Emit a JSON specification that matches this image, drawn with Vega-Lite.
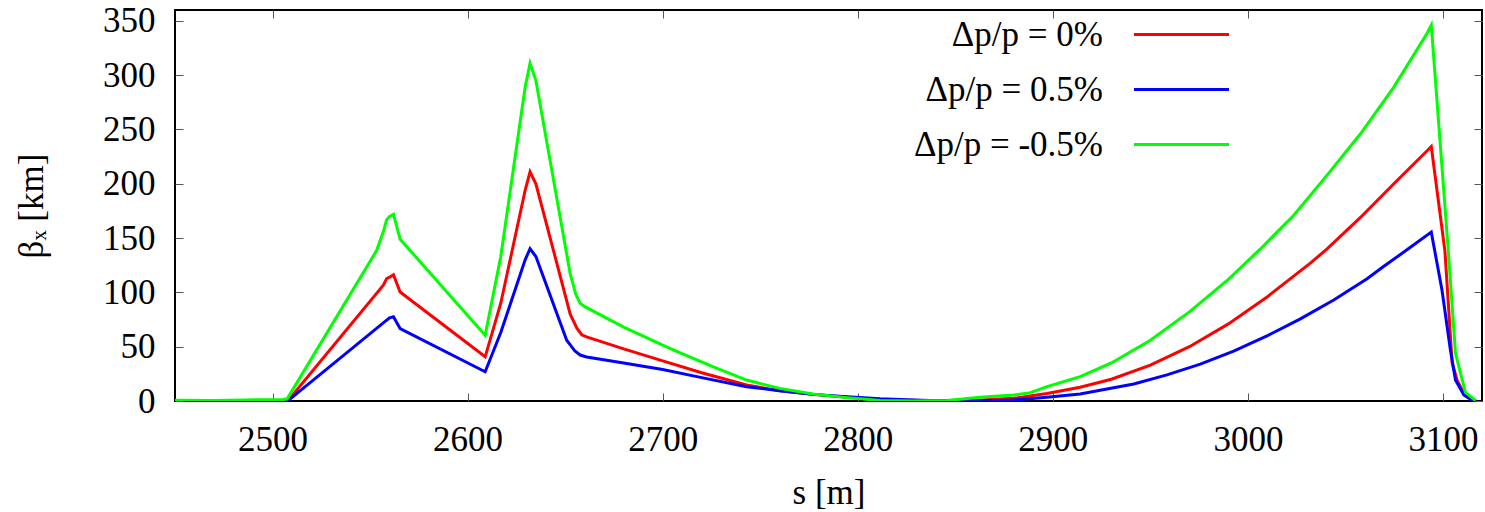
{
  "$schema": "https://vega.github.io/schema/vega-lite/v6.json",
  "width": 1307,
  "height": 391,
  "autosize": {"type": "none"},
  "padding": {"left": 175, "top": 10, "right": 3, "bottom": 111},
  "background": "white",
  "config": {
    "view": {"stroke": "#000", "strokeWidth": 2},
    "font": "Times New Roman",
    "axis": {
      "labelFont": "Times New Roman", "labelFontSize": 35, "labelColor": "#000",
      "titleFont": "Times New Roman", "titleFontSize": 35, "titleFontWeight": "normal", "titleColor": "#000",
      "grid": false, "domain": false, "tickColor": "#555", "tickWidth": 1, "tickSize": -8, "format": "d"
    },
    "legend": {
      "labelOffset": -96, "symbolOffset": 340, "labelAlign": "right", "labelLimit": 400
    }
  },
  "datasets": {
    "beta": [
      {"s":2450,"b":0.3,"k":"Δp/p = 0%"},{"s":2480,"b":0.2,"k":"Δp/p = 0%"},{"s":2505,"b":0.3,"k":"Δp/p = 0%"},{"s":2508,"b":0.5,"k":"Δp/p = 0%"},
      {"s":2556.8,"b":106.6,"k":"Δp/p = 0%"},{"s":2558.5,"b":112.7,"k":"Δp/p = 0%"},{"s":2560,"b":114,"k":"Δp/p = 0%"},{"s":2562,"b":116.3,"k":"Δp/p = 0%"},
      {"s":2565.4,"b":100.4,"k":"Δp/p = 0%"},{"s":2609,"b":40.7,"k":"Δp/p = 0%"},{"s":2617,"b":90,"k":"Δp/p = 0%"},{"s":2629.5,"b":194,"k":"Δp/p = 0%"},
      {"s":2632,"b":211,"k":"Δp/p = 0%"},{"s":2635,"b":200,"k":"Δp/p = 0%"},{"s":2652.6,"b":80,"k":"Δp/p = 0%"},{"s":2656,"b":67,"k":"Δp/p = 0%"},
      {"s":2658.5,"b":61,"k":"Δp/p = 0%"},{"s":2661,"b":59,"k":"Δp/p = 0%"},{"s":2680,"b":48,"k":"Δp/p = 0%"},{"s":2700,"b":37,"k":"Δp/p = 0%"},
      {"s":2720,"b":26,"k":"Δp/p = 0%"},{"s":2743,"b":14.7,"k":"Δp/p = 0%"},{"s":2760,"b":9.5,"k":"Δp/p = 0%"},{"s":2777,"b":6.1,"k":"Δp/p = 0%"},
      {"s":2794.5,"b":3.4,"k":"Δp/p = 0%"},{"s":2811.5,"b":1.2,"k":"Δp/p = 0%"},{"s":2840,"b":0.2,"k":"Δp/p = 0%"},{"s":2863,"b":1,"k":"Δp/p = 0%"},
      {"s":2880,"b":2.5,"k":"Δp/p = 0%"},{"s":2897,"b":7,"k":"Δp/p = 0%"},{"s":2914,"b":12.6,"k":"Δp/p = 0%"},{"s":2930,"b":20,"k":"Δp/p = 0%"},
      {"s":2950,"b":33,"k":"Δp/p = 0%"},{"s":2970,"b":50,"k":"Δp/p = 0%"},{"s":2990,"b":71,"k":"Δp/p = 0%"},{"s":3010,"b":96,"k":"Δp/p = 0%"},
      {"s":3032,"b":127,"k":"Δp/p = 0%"},{"s":3040.6,"b":140,"k":"Δp/p = 0%"},{"s":3057.7,"b":169,"k":"Δp/p = 0%"},{"s":3074.8,"b":200,"k":"Δp/p = 0%"},
      {"s":3092,"b":230.6,"k":"Δp/p = 0%"},{"s":3094,"b":234.3,"k":"Δp/p = 0%"},{"s":3101,"b":138,"k":"Δp/p = 0%"},{"s":3104.7,"b":35,"k":"Δp/p = 0%"},
      {"s":3107.3,"b":19,"k":"Δp/p = 0%"},{"s":3110.7,"b":7,"k":"Δp/p = 0%"},{"s":3115,"b":1,"k":"Δp/p = 0%"},{"s":3117,"b":0,"k":"Δp/p = 0%"},

      {"s":2450,"b":0.2,"k":"Δp/p = 0.5%"},{"s":2480,"b":0.1,"k":"Δp/p = 0.5%"},{"s":2505,"b":0.2,"k":"Δp/p = 0.5%"},{"s":2508,"b":0.4,"k":"Δp/p = 0.5%"},
      {"s":2558.5,"b":74.4,"k":"Δp/p = 0.5%"},{"s":2560,"b":76.5,"k":"Δp/p = 0.5%"},{"s":2562,"b":77.5,"k":"Δp/p = 0.5%"},{"s":2565.4,"b":66.7,"k":"Δp/p = 0.5%"},
      {"s":2609,"b":26.9,"k":"Δp/p = 0.5%"},{"s":2617,"b":63,"k":"Δp/p = 0.5%"},{"s":2629.5,"b":130,"k":"Δp/p = 0.5%"},{"s":2632,"b":140.2,"k":"Δp/p = 0.5%"},
      {"s":2635,"b":133,"k":"Δp/p = 0.5%"},{"s":2650.8,"b":56,"k":"Δp/p = 0.5%"},{"s":2655,"b":46,"k":"Δp/p = 0.5%"},{"s":2657.7,"b":42.3,"k":"Δp/p = 0.5%"},
      {"s":2661,"b":40.5,"k":"Δp/p = 0.5%"},{"s":2680,"b":35,"k":"Δp/p = 0.5%"},{"s":2700,"b":29,"k":"Δp/p = 0.5%"},{"s":2720,"b":21.5,"k":"Δp/p = 0.5%"},
      {"s":2743,"b":13.2,"k":"Δp/p = 0.5%"},{"s":2760,"b":9.5,"k":"Δp/p = 0.5%"},{"s":2777,"b":6.1,"k":"Δp/p = 0.5%"},{"s":2794.5,"b":4,"k":"Δp/p = 0.5%"},
      {"s":2811.5,"b":2.1,"k":"Δp/p = 0.5%"},{"s":2828.6,"b":0.9,"k":"Δp/p = 0.5%"},{"s":2845.7,"b":0.1,"k":"Δp/p = 0.5%"},{"s":2863,"b":0.3,"k":"Δp/p = 0.5%"},
      {"s":2880,"b":0.9,"k":"Δp/p = 0.5%"},{"s":2897,"b":3.4,"k":"Δp/p = 0.5%"},{"s":2914,"b":6.4,"k":"Δp/p = 0.5%"},{"s":2941.5,"b":15.7,"k":"Δp/p = 0.5%"},
      {"s":2958.5,"b":24,"k":"Δp/p = 0.5%"},{"s":2975.6,"b":34,"k":"Δp/p = 0.5%"},{"s":2992.7,"b":46,"k":"Δp/p = 0.5%"},{"s":3009.8,"b":60,"k":"Δp/p = 0.5%"},
      {"s":3026.9,"b":75.6,"k":"Δp/p = 0.5%"},{"s":3044,"b":93,"k":"Δp/p = 0.5%"},{"s":3061.1,"b":112.5,"k":"Δp/p = 0.5%"},{"s":3069.7,"b":124,"k":"Δp/p = 0.5%"},
      {"s":3083.3,"b":141.5,"k":"Δp/p = 0.5%"},{"s":3094,"b":155.5,"k":"Δp/p = 0.5%"},{"s":3099.5,"b":102,"k":"Δp/p = 0.5%"},{"s":3103.8,"b":47,"k":"Δp/p = 0.5%"},
      {"s":3106.4,"b":19.3,"k":"Δp/p = 0.5%"},{"s":3110.7,"b":5.5,"k":"Δp/p = 0.5%"},{"s":3115,"b":0.5,"k":"Δp/p = 0.5%"},{"s":3117,"b":0,"k":"Δp/p = 0.5%"},

      {"s":2450,"b":0.8,"k":"Δp/p = -0.5%"},{"s":2470,"b":0.5,"k":"Δp/p = -0.5%"},{"s":2486,"b":1,"k":"Δp/p = -0.5%"},{"s":2505,"b":1.2,"k":"Δp/p = -0.5%"},
      {"s":2507.5,"b":2,"k":"Δp/p = -0.5%"},{"s":2553.4,"b":138.7,"k":"Δp/p = -0.5%"},{"s":2556.8,"b":156,"k":"Δp/p = -0.5%"},{"s":2558.5,"b":167,"k":"Δp/p = -0.5%"},
      {"s":2560,"b":170,"k":"Δp/p = -0.5%"},{"s":2562,"b":172,"k":"Δp/p = -0.5%"},{"s":2565.4,"b":149,"k":"Δp/p = -0.5%"},{"s":2609,"b":60.6,"k":"Δp/p = -0.5%"},
      {"s":2617,"b":133,"k":"Δp/p = -0.5%"},{"s":2629.5,"b":289,"k":"Δp/p = -0.5%"},{"s":2632,"b":311,"k":"Δp/p = -0.5%"},{"s":2635,"b":295,"k":"Δp/p = -0.5%"},
      {"s":2652.6,"b":117,"k":"Δp/p = -0.5%"},{"s":2655.5,"b":98,"k":"Δp/p = -0.5%"},{"s":2657.7,"b":90,"k":"Δp/p = -0.5%"},{"s":2660.3,"b":86.6,"k":"Δp/p = -0.5%"},
      {"s":2680,"b":68,"k":"Δp/p = -0.5%"},{"s":2702,"b":49.9,"k":"Δp/p = -0.5%"},{"s":2709,"b":44.4,"k":"Δp/p = -0.5%"},{"s":2726,"b":31.5,"k":"Δp/p = -0.5%"},
      {"s":2743,"b":19.3,"k":"Δp/p = -0.5%"},{"s":2760,"b":11.6,"k":"Δp/p = -0.5%"},{"s":2777,"b":6.4,"k":"Δp/p = -0.5%"},{"s":2794.5,"b":3.1,"k":"Δp/p = -0.5%"},
      {"s":2811.5,"b":0.5,"k":"Δp/p = -0.5%"},{"s":2828.6,"b":0,"k":"Δp/p = -0.5%"},{"s":2845.7,"b":0.5,"k":"Δp/p = -0.5%"},{"s":2862.8,"b":3.4,"k":"Δp/p = -0.5%"},
      {"s":2880,"b":5.5,"k":"Δp/p = -0.5%"},{"s":2888.5,"b":7.7,"k":"Δp/p = -0.5%"},{"s":2897,"b":13.2,"k":"Δp/p = -0.5%"},{"s":2914,"b":22.4,"k":"Δp/p = -0.5%"},
      {"s":2930,"b":35,"k":"Δp/p = -0.5%"},{"s":2950,"b":56,"k":"Δp/p = -0.5%"},{"s":2970,"b":82,"k":"Δp/p = -0.5%"},{"s":2990,"b":112,"k":"Δp/p = -0.5%"},
      {"s":3006.4,"b":140,"k":"Δp/p = -0.5%"},{"s":3023.5,"b":171,"k":"Δp/p = -0.5%"},{"s":3040.6,"b":208,"k":"Δp/p = -0.5%"},{"s":3057.7,"b":246,"k":"Δp/p = -0.5%"},
      {"s":3074.8,"b":289,"k":"Δp/p = -0.5%"},{"s":3092,"b":339,"k":"Δp/p = -0.5%"},{"s":3094,"b":346,"k":"Δp/p = -0.5%"},
      {"s":3102.7,"b":139,"k":"Δp/p = -0.5%"},{"s":3106.4,"b":44,"k":"Δp/p = -0.5%"},{"s":3111.5,"b":8,"k":"Δp/p = -0.5%"},{"s":3116.7,"b":0.5,"k":"Δp/p = -0.5%"}
    ]
  },
  "data": {"name": "beta"},
  "layer": [
    {
      "mark": {"type": "line", "strokeWidth": 3, "clip": true},
      "encoding": {
        "x": {"field": "s", "type": "quantitative",
          "scale": {"domain": [2450, 3120], "nice": false, "zero": false},
          "axis": {"orient": "bottom", "title": "s [m]", "values": [2500, 2600, 2700, 2800, 2900, 3000, 3100], "labelPadding": 29, "titlePadding": 18, "labelFlush": false}},
        "y": {"field": "b", "type": "quantitative",
          "scale": {"domain": [0, 360], "nice": false, "zero": false},
          "axis": {"orient": "left", "title": "βₓ [km]", "values": [0, 50, 100, 150, 200, 250, 300, 350], "labelPadding": 28, "titlePadding": 53, "labelFlush": false}},
        "color": {"field": "k", "type": "nominal",
          "scale": {"domain": ["Δp/p = 0%", "Δp/p = 0.5%", "Δp/p = -0.5%"], "range": ["#ff0000", "#0000ff", "#00ff00"]},
          "legend": {"orient": "none", "legendX": 649, "legendY": 7, "title": null,
            "symbolType": "M-5,0H5", "symbolSize": 361, "symbolStrokeWidth": 3,
            "labelFont": "Times New Roman", "labelFontSize": 35, "labelColor": "#000",
            "rowPadding": 19, "padding": 0, "offset": 0}}
      }
    },
    {
      "mark": {"type": "point", "opacity": 0},
      "encoding": {
        "x": {"field": "s", "type": "quantitative",
          "scale": {"domain": [2450, 3120], "nice": false, "zero": false},
          "axis": {"orient": "top", "title": null, "labels": false, "values": [2500, 2600, 2700, 2800, 2900, 3000, 3100]}},
        "y": {"field": "b", "type": "quantitative",
          "scale": {"domain": [0, 360], "nice": false, "zero": false},
          "axis": {"orient": "right", "title": null, "labels": false, "values": [0, 50, 100, 150, 200, 250, 300, 350]}}
      }
    }
  ]
}
